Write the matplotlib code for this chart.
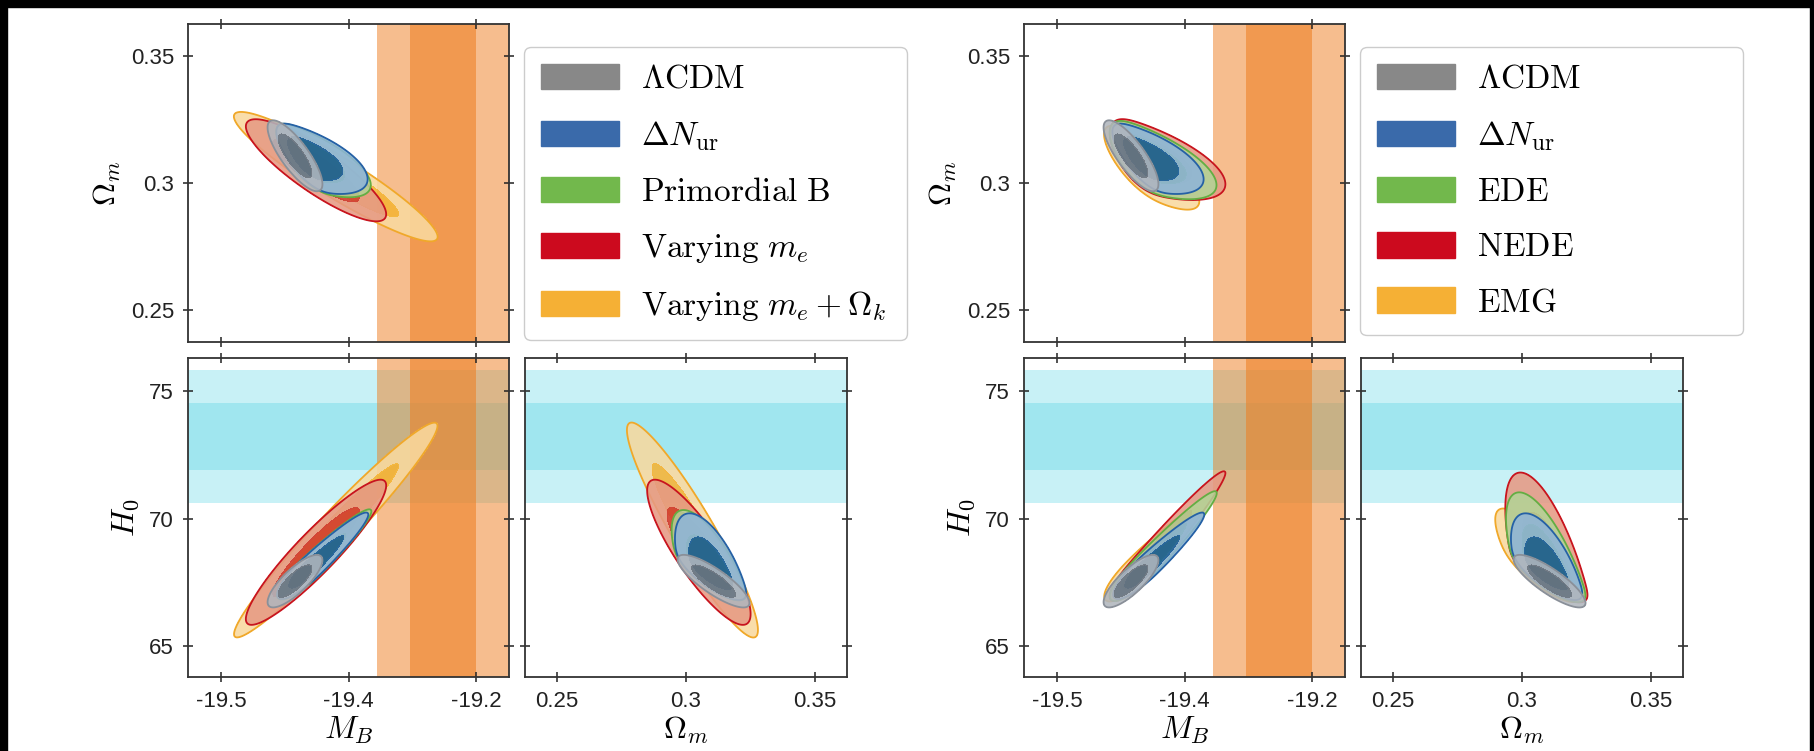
import numpy as np
import matplotlib
matplotlib.use('Agg')
import matplotlib.pyplot as plt
from matplotlib.patches import Patch, Rectangle

plt.rcParams['mathtext.fontset'] = 'cm'
plt.rcParams['font.family'] = ['Liberation Sans', 'DejaVu Sans']
plt.rcParams['axes.unicode_minus'] = False

# axis ticks / limits
mb_ticks = [-19.5, -19.4, -19.3]
mb_ticklabels = ['-19.5', '-19.4', '-19.2']
om_ticks = [0.25, 0.3, 0.35]
om_ticklabels = ['0.25', '0.3', '0.35']
h0_ticks = [65, 70, 75]
h0_ticklabels = ['65', '70', '75']
mb_lim = (-19.526, -19.274)
om_lim = (0.2375, 0.3625)
h0_lim = (63.8, 76.28)

# local measurements shown as bands (mean, sigma)
mb_local = (-19.3255, 0.0259)
h0_local = (73.2, 1.3)

# left triangle: posteriors (mean, sd, correlations, one-sided tail)
left_labels = [r'$\Lambda\mathrm{CDM}$', r'$\Delta N_{\mathrm{ur}}$', r'$\mathrm{Primordial\ B}$',
               r'$\mathrm{Varying}\ m_e$', r'$\mathrm{Varying}\ m_e+\Omega_k$']
left_mb_mean = [-19.442, -19.440, -19.440, -19.4255, -19.410]
left_mb_sd = [0.0088, 0.0085, 0.0086, 0.0225, 0.0327]
left_om_mean = [0.3107, 0.3105, 0.3105, 0.3050, 0.3025]
left_om_sd = [0.0057, 0.0055, 0.0056, 0.0082, 0.0104]
left_h0_mean = [67.55, 67.6, 67.6, 68.68, 69.55]
left_h0_sd = [0.42, 0.40, 0.41, 1.16, 1.72]
left_r_mb_om = [-0.80, -0.80, -0.80, -0.86, -0.93]
left_r_mb_h0 = [0.80, 0.80, 0.80, 0.92, 0.97]
left_r_om_h0 = [-0.83, -0.83, -0.83, -0.85, -0.93]
left_tail_mb = [0.0, 0.020, 0.021, 0.0, 0.0]
left_tail_om = [0.0, -0.002, -0.003, 0.0, 0.0]
left_tail_h0 = [0.0, 0.95, 1.00, 0.0, 0.0]

# right triangle
right_labels = [r'$\Lambda\mathrm{CDM}$', r'$\Delta N_{\mathrm{ur}}$', r'$\mathrm{EDE}$',
                r'$\mathrm{NEDE}$', r'$\mathrm{EMG}$']
right_mb_mean = [-19.442, -19.440, -19.442, -19.442, -19.445]
right_mb_sd = [0.0088, 0.0085, 0.0088, 0.0088, 0.0095]
right_om_mean = [0.3107, 0.3105, 0.3110, 0.3112, 0.3095]
right_om_sd = [0.0057, 0.0055, 0.0059, 0.0061, 0.0060]
right_h0_mean = [67.55, 67.6, 67.55, 67.55, 67.6]
right_h0_sd = [0.42, 0.40, 0.42, 0.42, 0.45]
right_r_mb_om = [-0.80, -0.80, -0.70, -0.65, -0.78]
right_r_mb_h0 = [0.80, 0.80, 0.80, 0.80, 0.80]
right_r_om_h0 = [-0.83, -0.83, -0.83, -0.83, -0.83]
right_tail_mb = [0.0, 0.020, 0.025, 0.028, 0.020]
right_tail_om = [0.0, -0.002, -0.0035, -0.0036, -0.005]
right_tail_h0 = [0.0, 0.95, 1.32, 1.65, 1.00]

# colours per legend slot
legend_col = ['#888888', '#3a6aaa', '#72b84c', '#cc0a1e', '#f5b035']
fill_outer = ['#b1b6bd', '#8fb5d8', '#b3d396', '#e69a84', '#f9d99f']
fill_inner = ['#6b747e', '#1c5d97', '#72b44c', '#d03a2e', '#f4b334']
line_col = ['#8a9099', '#2561a5', '#64ad43', '#c8141e', '#f0a82a']
orange_band = '#ee7d1e'
cyan_band = '#64d7e6'

W, H = 1815, 751
fig = plt.figure(figsize=(W / 100, H / 100), dpi=100)


def add_ax(x0, y0, x1, y1):
    return fig.add_axes([x0 / W, 1 - y1 / H, (x1 - x0) / W, (y1 - y0) / H])


def density(xlim, ylim, mean, cov, tail):
    xg = np.linspace(xlim[0], xlim[1], 320)
    yg = np.linspace(ylim[0], ylim[1], 320)
    X, Y = np.meshgrid(xg, yg)
    inv = np.linalg.inv(cov)
    D = np.zeros_like(X)
    fs = np.linspace(0, 4, 81) if (tail[0] or tail[1]) else [0.0]
    for f in fs:
        dx = X - mean[0] - tail[0] * f
        dy = Y - mean[1] - tail[1] * f
        q = inv[0, 0] * dx * dx + 2 * inv[0, 1] * dx * dy + inv[1, 1] * dy * dy
        D += np.exp(-0.5 * f * f) * np.exp(-0.5 * q)
    return X, Y, D


def mass_levels(D, probs=(0.95, 0.68)):
    v = np.sort(D.ravel())[::-1]
    c = np.cumsum(v)
    c /= c[-1]
    return [v[np.searchsorted(c, p)] for p in probs]


def style(ax, xt, xl, yt, yl, xlim, ylim, showx, showy):
    ax.set_xlim(xlim)
    ax.set_ylim(ylim)
    ax.set_xticks(xt)
    ax.set_yticks(yt)
    ax.set_xticklabels(xl if showx else [])
    ax.set_yticklabels(yl if showy else [])
    ax.tick_params(direction='inout', length=7, width=1.1, top=True, right=True,
                   labelsize=16, pad=6.5, colors='#222222')
    for s in ax.spines.values():
        s.set_linewidth(1.3)
        s.set_color('#333333')
        s.set_zorder(10)


def draw_triangle(dx, labels, mb_m, mb_s, om_m, om_s, h0_m, h0_s, r_mo, r_mh, r_oh,
                  t_mb, t_om, t_h0):
    ax_top = add_ax(188 + dx, 24, 509 + dx, 342)
    ax_bl = add_ax(188 + dx, 358, 509 + dx, 677)
    ax_br = add_ax(525 + dx, 358, 847 + dx, 677)

    # bands
    for ax in (ax_bl, ax_br):
        ax.axhspan(h0_local[0] - 2 * h0_local[1], h0_local[0] + 2 * h0_local[1],
                   color=cyan_band, alpha=0.35, lw=0, zorder=0.5)
        ax.axhspan(h0_local[0] - h0_local[1], h0_local[0] + h0_local[1],
                   color=cyan_band, alpha=0.4, lw=0, zorder=0.6)
    for ax in (ax_top, ax_bl):
        ax.axvspan(mb_local[0] - 2 * mb_local[1], mb_local[0] + 2 * mb_local[1],
                   color=orange_band, alpha=0.5, lw=0, zorder=0.7)
        ax.axvspan(mb_local[0] - mb_local[1], mb_local[0] + mb_local[1],
                   color=orange_band, alpha=0.55, lw=0, zorder=0.8)

    panels = [(ax_top, 0, 1, mb_lim, om_lim), (ax_bl, 0, 2, mb_lim, h0_lim),
              (ax_br, 1, 2, om_lim, h0_lim)]
    n = len(labels)
    for k in range(n - 1, -1, -1):
        mean = [mb_m[k], om_m[k], h0_m[k]]
        sd = [mb_s[k], om_s[k], h0_s[k]]
        r = {(0, 1): r_mo[k], (0, 2): r_mh[k], (1, 2): r_oh[k]}
        tail = [t_mb[k], t_om[k], t_h0[k]]
        z = 2 + (n - k)
        for ax, i, j, xlim, ylim in panels:
            cov = np.array([[sd[i] ** 2, r[(i, j)] * sd[i] * sd[j]],
                            [r[(i, j)] * sd[i] * sd[j], sd[j] ** 2]])
            X, Y, D = density(xlim, ylim, (mean[i], mean[j]), cov, (tail[i], tail[j]))
            l95, l68 = mass_levels(D)
            ax.contourf(X, Y, D, levels=[l95, l68, D.max() * 1.01],
                        colors=[fill_outer[k], fill_inner[k]], alpha=0.88, zorder=z)
            ax.contour(X, Y, D, levels=[l95], colors=[line_col[k]], linewidths=1.3,
                       zorder=z + 0.5)

    style(ax_top, mb_ticks, mb_ticklabels, om_ticks, om_ticklabels, mb_lim, om_lim, False, True)
    style(ax_bl, mb_ticks, mb_ticklabels, h0_ticks, h0_ticklabels, mb_lim, h0_lim, True, True)
    style(ax_br, om_ticks, om_ticklabels, h0_ticks, h0_ticklabels, om_lim, h0_lim, True, False)
    ax_top.set_ylabel(r'$\Omega_m$', fontsize=23, labelpad=6)
    ax_bl.set_ylabel(r'$H_0$', fontsize=23, labelpad=6)
    ax_bl.set_xlabel(r'$M_B$', fontsize=23, labelpad=2)
    ax_br.set_xlabel(r'$\Omega_m$', fontsize=23, labelpad=2)

    handles = [Patch(facecolor=c, edgecolor=c) for c in legend_col]
    fig.legend(handles, labels, loc='upper left',
               bbox_to_anchor=((524 + dx) / W, 1 - 327 / H, 383 / W, 280 / H),
               mode='expand', borderaxespad=0, fontsize=24, handlelength=2.35,
               handleheight=0.8, handletextpad=0.65, labelspacing=0.72,
               borderpad=0.5, fancybox=True, framealpha=1, edgecolor='#cccccc')


draw_triangle(0, left_labels, left_mb_mean, left_mb_sd, left_om_mean, left_om_sd,
              left_h0_mean, left_h0_sd, left_r_mb_om, left_r_mb_h0, left_r_om_h0,
              left_tail_mb, left_tail_om, left_tail_h0)
draw_triangle(836, right_labels, right_mb_mean, right_mb_sd, right_om_mean, right_om_sd,
              right_h0_mean, right_h0_sd, right_r_mb_om, right_r_mb_h0, right_r_om_h0,
              right_tail_mb, right_tail_om, right_tail_h0)

# black frame strips of the screenshot
for x0, y0, w, h in [(0, 0, W, 7), (0, 0, 7, H), (1810, 0, 5, H)]:
    fig.add_artist(Rectangle((x0 / W, 1 - (y0 + h) / H), w / W, h / H,
                             transform=fig.transFigure, color='black', zorder=100))

fig.savefig('out.png', dpi=100)
